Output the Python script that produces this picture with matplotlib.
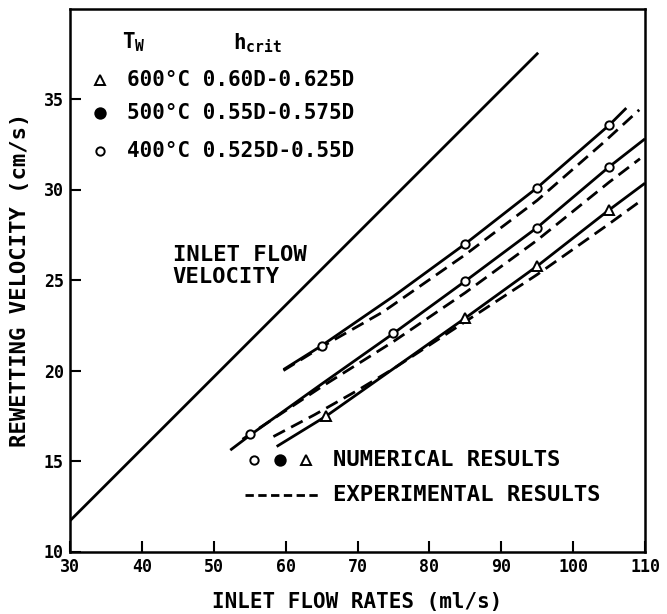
import matplotlib
import matplotlib.pyplot as plt

matplotlib.use("Agg")

plt.rcParams["font.family"] = ["DejaVu Sans Mono", "DejaVu Sans"]
plt.rcParams["font.weight"] = "bold"
plt.rcParams["axes.labelweight"] = "bold"
plt.rcParams["mathtext.fontset"] = "custom"
plt.rcParams["mathtext.rm"] = "DejaVu Sans Mono:bold"
plt.rcParams["mathtext.bf"] = "DejaVu Sans Mono:bold"
plt.rcParams["mathtext.it"] = "DejaVu Sans Mono:bold"

# inlet flow velocity line
inlet_x = [30, 95]
inlet_y = [11.7, 37.5]

# numerical (solid) curves
top_x = [59.7, 65, 75, 85, 95, 105, 107.4]
top_y = [20.05, 21.37, 24.1, 27.0, 30.1, 33.55, 34.5]
mid_x = [52.3, 55.3, 65, 75, 85, 95, 105, 110]
mid_y = [15.6, 16.5, 19.25, 22.05, 24.94, 27.9, 31.25, 32.8]
bot_x = [58.75, 65.6, 75, 85, 95, 105, 110]
bot_y = [15.8, 17.47, 20.1, 22.9, 25.77, 28.87, 30.35]

# experimental (dashed) curves
top_ex_x = [59.7, 65, 73.6, 85, 95, 104.1, 109.2]
top_ex_y = [20.0, 21.3, 23.25, 26.4, 29.4, 32.55, 34.4]
mid_ex_x = [54, 65, 75, 85, 95, 105, 109.3]
mid_ex_y = [16.2, 19.1, 21.6, 24.3, 27.2, 30.4, 31.7]
bot_ex_x = [58.3, 64, 70, 75, 85, 95, 105, 109.5]
bot_ex_y = [16.35, 17.55, 18.9, 20.1, 22.7, 25.3, 28.1, 29.4]

# numerical result markers
top_pts_x = [65, 85, 95, 105]
top_pts_y = [21.37, 27.0, 30.1, 33.55]
mid_pts_x = [55, 75, 85, 95, 105]
mid_pts_y = [16.5, 22.05, 24.94, 27.9, 31.25]
tri_pts_x = [65.6, 85, 95, 105]
tri_pts_y = [17.47, 22.9, 25.77, 28.87]

legend_rows = ["600°C 0.60D-0.625D", "500°C 0.55D-0.575D", "400°C 0.525D-0.55D"]
legend_y = [36.05, 34.2, 32.1]

x_ticks = [30, 40, 50, 60, 70, 80, 90, 100, 110]
y_ticks = [10, 15, 20, 25, 30, 35]

fig = plt.figure(figsize=(6.67, 6.14), dpi=100)
ax = fig.add_axes([70 / 667, 62.5 / 614, 575 / 667, 543 / 614])

LW = 2.0
dash = (0, (4.7, 2.5))
ax.plot(inlet_x, inlet_y, color="black", lw=LW)
for xs, ys in [(top_x, top_y), (mid_x, mid_y), (bot_x, bot_y)]:
    ax.plot(xs, ys, color="black", lw=LW, solid_capstyle="butt")
for xs, ys in [(top_ex_x, top_ex_y), (mid_ex_x, mid_ex_y), (bot_ex_x, bot_ex_y)]:
    ax.plot(xs, ys, color="black", lw=LW, linestyle=dash)

mk = dict(color="black", markerfacecolor="white", markeredgecolor="black",
          markeredgewidth=1.4, linestyle="none", zorder=5)
ax.plot(top_pts_x, top_pts_y, marker="o", markersize=6, **mk)
ax.plot(mid_pts_x, mid_pts_y, marker="o", markersize=6, **mk)
ax.plot(tri_pts_x, tri_pts_y, marker="^", markersize=7, **mk)

# upper key
ax.text(37.2, 38.15, r"$\mathbf{T}_{\mathbf{W}}$", fontsize=15, va="center", ha="left")
ax.text(52.7, 38.1, r"$\mathbf{h}_{\mathbf{crit}}$", fontsize=15, va="center", ha="left")
key_markers = [("^", "white", 7), ("o", "black", 7.5), ("o", "white", 6)]
for (m, fc, ms), row, yy in zip(key_markers, legend_rows, legend_y):
    ax.plot([34.2], [yy], marker=m, markersize=ms, markerfacecolor=fc,
            markeredgecolor="black", markeredgewidth=1.4, linestyle="none")
    ax.text(37.9, yy, row, fontsize=15, va="center", ha="left")

ax.text(44.3, 25.77, "INLET FLOW\nVELOCITY", fontsize=16, va="center", ha="left",
        linespacing=1.1)

# lower key
for xm, m, fc, ms in [(55.6, "o", "white", 6), (59.2, "o", "black", 7.5), (62.8, "^", "white", 7)]:
    ax.plot([xm], [15.05], marker=m, markersize=ms, markerfacecolor=fc,
            markeredgecolor="black", markeredgewidth=1.4, linestyle="none")
ax.text(66.6, 15.05, "NUMERICAL RESULTS", fontsize=16, va="center", ha="left")
ax.plot([54.3, 64.5], [13.1, 13.1], color="black", lw=LW, linestyle=(0, (3, 1.6)))
ax.text(66.6, 13.1, "EXPERIMENTAL RESULTS", fontsize=16, va="center", ha="left")

ax.set_xlim(30, 110)
ax.set_ylim(10, 40)
ax.set_xticks(x_ticks)
ax.set_yticks(y_ticks)
ax.tick_params(direction="in", length=8, width=1.5, labelsize=12, pad=4.5)
for s in ax.spines.values():
    s.set_linewidth(1.8)
ax.set_xlabel("INLET FLOW RATES (ml/s)", fontsize=15, labelpad=12)
ax.set_ylabel("REWETTING VELOCITY (cm/s)", fontsize=16, labelpad=10)

fig.savefig("out.png", dpi=100)
